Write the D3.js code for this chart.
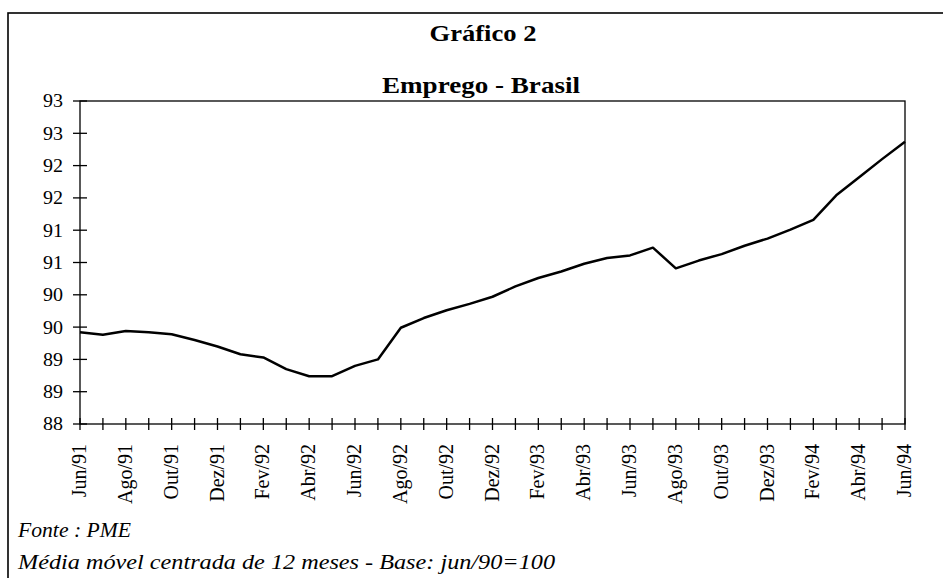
<!DOCTYPE html>
<html>
<head>
<meta charset="utf-8">
<script src="https://cdn.jsdelivr.net/npm/d3@7"></script>
<style>
  body { margin: 0; background: #fff; }
  text { font-family: "Times New Roman", Times, "Liberation Serif", Tinos, serif; fill: #000; }
</style>
</head>
<body>
<svg id="chart" width="943" height="578"></svg>
<script>
// month labels, Jun/91 .. Jun/94
var months = ["Jun/91", "Jul/91", "Ago/91", "Set/91", "Out/91", "Nov/91", "Dez/91",
  "Jan/92", "Fev/92", "Mar/92", "Abr/92", "Mai/92", "Jun/92", "Jul/92", "Ago/92",
  "Set/92", "Out/92", "Nov/92", "Dez/92", "Jan/93", "Fev/93", "Mar/93", "Abr/93",
  "Mai/93", "Jun/93", "Jul/93", "Ago/93", "Set/93", "Out/93", "Nov/93", "Dez/93",
  "Jan/94", "Fev/94", "Mar/94", "Abr/94", "Mai/94", "Jun/94"];

// emprego, media movel 12 meses (base jun/90=100)
var emprego = [89.42, 89.38, 89.44, 89.42, 89.39, 89.30, 89.20, 89.08, 89.03, 88.85,
  88.74, 88.74, 88.90, 89.00, 89.49, 89.64, 89.76, 89.86, 89.97, 90.13,
  90.26, 90.36, 90.48, 90.57, 90.61, 90.73, 90.41, 90.53, 90.63, 90.76,
  90.87, 91.01, 91.16, 91.54, 91.82, 92.10, 92.37];

var yTicks = [88, 88.5, 89, 89.5, 90, 90.5, 91, 91.5, 92, 92.5, 93];

var svg = d3.select("#chart");

// outer frame (left + top visible)
svg.append("rect")
  .attr("x", 8).attr("y", 13)
  .attr("width", 1000).attr("height", 1000)
  .attr("fill", "none").attr("stroke", "#000").attr("stroke-width", 1.6);

var x = d3.scaleLinear().domain([0, months.length - 1]).range([80, 905]);
var y = d3.scaleLinear().domain([88, 93]).range([424, 101]);

// titles
svg.append("text")
  .attr("x", 483).attr("y", 41)
  .attr("text-anchor", "middle")
  .attr("font-size", 23).attr("font-weight", "bold")
  .attr("textLength", 107).attr("lengthAdjust", "spacingAndGlyphs")
  .text("Gráfico 2");

svg.append("text")
  .attr("x", 481).attr("y", 93)
  .attr("text-anchor", "middle")
  .attr("font-size", 23).attr("font-weight", "bold")
  .attr("textLength", 198).attr("lengthAdjust", "spacingAndGlyphs")
  .text("Emprego - Brasil");

// plot border
svg.append("rect")
  .attr("x", x(0)).attr("y", y(93))
  .attr("width", x(months.length - 1) - x(0))
  .attr("height", y(88) - y(93))
  .attr("fill", "none").attr("stroke", "#000").attr("stroke-width", 1.3);

// y axis ticks (crossing the axis) and labels
var yg = svg.append("g");
yg.selectAll("line").data(yTicks).enter().append("line")
  .attr("x1", x(0) - 7).attr("x2", x(0) + 7)
  .attr("y1", d => y(d)).attr("y2", d => y(d))
  .attr("stroke", "#000").attr("stroke-width", 1.3);
yg.selectAll("text").data(yTicks).enter().append("text")
  .attr("x", 63).attr("y", d => y(d))
  .attr("dy", "0.36em")
  .attr("text-anchor", "end")
  .attr("font-size", 18)
  .attr("textLength", 20).attr("lengthAdjust", "spacingAndGlyphs")
  .text(d => d3.format(".0f")(Math.round(d)));

// x axis ticks (every month) and labels (every other month)
var xg = svg.append("g");
xg.selectAll("line").data(months).enter().append("line")
  .attr("x1", (d, i) => x(i)).attr("x2", (d, i) => x(i))
  .attr("y1", y(88) - 6).attr("y2", y(88) + 6)
  .attr("stroke", "#000").attr("stroke-width", 1.3);
xg.selectAll("text").data(months.filter((d, i) => i % 2 == 0)).enter().append("text")
  .attr("transform", (d, i) => "translate(" + (x(i * 2) + 6) + "," + 444 + ") rotate(-90)")
  .attr("text-anchor", "end")
  .attr("font-size", 20)
  .text(d => d);

// series line
var line = d3.line()
  .x((d, i) => x(i))
  .y(d => y(d));

svg.append("path")
  .datum(emprego)
  .attr("d", line)
  .attr("fill", "none")
  .attr("stroke", "#000")
  .attr("stroke-width", 2.5)
  .attr("stroke-linejoin", "round");

// notes
svg.append("text")
  .attr("x", 18).attr("y", 537)
  .attr("font-size", 20).attr("font-style", "italic")
  .attr("textLength", 113).attr("lengthAdjust", "spacingAndGlyphs")
  .text("Fonte : PME");

svg.append("text")
  .attr("x", 18).attr("y", 569)
  .attr("font-size", 20).attr("font-style", "italic")
  .attr("textLength", 537).attr("lengthAdjust", "spacingAndGlyphs")
  .text("Média móvel centrada de 12 meses - Base: jun/90=100");
</script>
</body>
</html>
